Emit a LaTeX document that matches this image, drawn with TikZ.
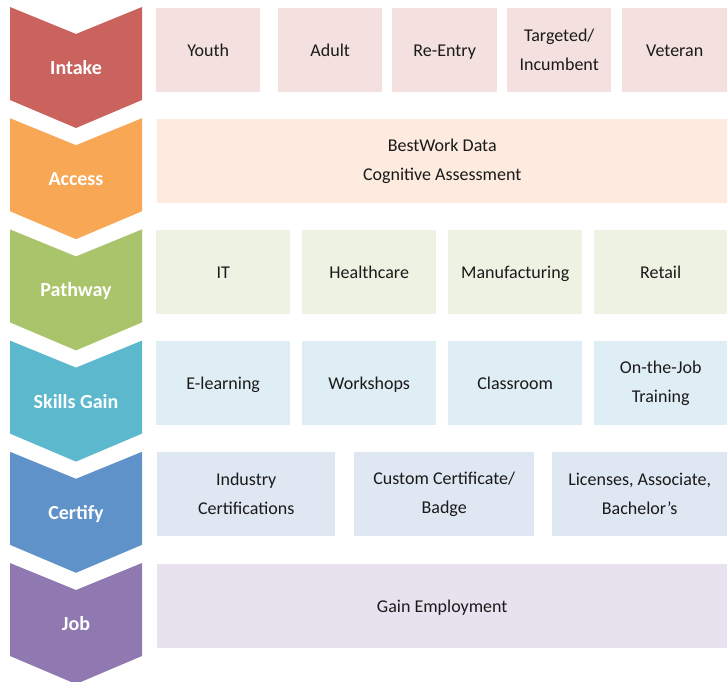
\documentclass[tikz,border=0pt]{standalone}
\usepackage{fontspec}
\setmainfont{Carlito}
\usetikzlibrary{positioning}
\usepackage{xcolor}

\definecolor{intakeC}{HTML}{CA625E}
\definecolor{accessC}{HTML}{F8A755}
\definecolor{pathwayC}{HTML}{AAC46B}
\definecolor{skillsC}{HTML}{5BB8CD}
\definecolor{certifyC}{HTML}{5E92C8}
\definecolor{jobC}{HTML}{9079B0}
\definecolor{intakeL}{HTML}{F4E0DF}
\definecolor{accessL}{HTML}{FDEBDF}
\definecolor{pathwayL}{HTML}{EEF2E2}
\definecolor{skillsL}{HTML}{DFEEF4}
\definecolor{certifyL}{HTML}{DFE7F2}
\definecolor{jobL}{HTML}{E8E2EF}
\definecolor{textC}{HTML}{1A1A1A}

\begin{document}
\begin{tikzpicture}[x=1bp, y=-1bp,
    every node/.style={
        rectangle,
        inner sep=0pt,
        align=center,
        text=textC,
        font=\fontsize{18bp}{29bp}\selectfont
    },
    item/.style={anchor=north west, minimum height=84bp},
    oneline/.style={text height=15bp, text depth=2bp}
]
    \useasboundingbox (0,0) rectangle (727,682);

    % chevrons down the left side
    \foreach \stage/\col [count=\i from 0] in {Intake/intakeC, Access/accessC,
        Pathway/pathwayC, Skills Gain/skillsC, Certify/certifyC, Job/jobC}
    {
        \pgfmathsetmacro{\top}{7+111.2*\i}
        \fill[\col] (10,\top) -- (76,\top+27) -- (142,\top) -- (142,\top+93)
            -- (76,\top+121) -- (10,\top+93) -- cycle;
        \node (stage\i) [text=white, oneline, font=\fontsize{20bp}{24bp}\selectfont\bfseries]
            at (76,\top+61) {\stage};
    }

    % Intake
    \node (youth) [item, oneline, fill=intakeL, minimum width=104bp] at (156,8) {Youth};
    \node (adult) [item, oneline, fill=intakeL, minimum width=104bp] at (278,8) {Adult};
    \node (re_entry) [item, oneline, fill=intakeL, minimum width=105bp] at (392,8) {Re-Entry};
    \node (targeted) [item, fill=intakeL, minimum width=104bp] at (507,8)
    {
        Targeted/\\Incumbent
    };
    \node (veteran) [item, oneline, fill=intakeL, minimum width=105bp] at (622,8) {Veteran};

    % Access
    \node (bestwork) [item, fill=accessL, minimum width=570bp] at (157,119)
    {
        BestWork Data\\Cognitive Assessment
    };

    % Pathway
    \node (it) [item, oneline, fill=pathwayL, minimum width=134bp] at (156,230) {IT};
    \node (healthcare) [item, oneline, fill=pathwayL, minimum width=134bp] at (302,230) {Healthcare};
    \node (manufacturing) [item, oneline, fill=pathwayL, minimum width=134bp] at (448,230) {Manufacturing};
    \node (retail) [item, oneline, fill=pathwayL, minimum width=133bp] at (594,230) {Retail};

    % Skills Gain
    \node (elearning) [item, oneline, fill=skillsL, minimum width=134bp] at (156,341) {E-learning};
    \node (workshops) [item, oneline, fill=skillsL, minimum width=134bp] at (302,341) {Workshops};
    \node (classroom) [item, oneline, fill=skillsL, minimum width=134bp] at (448,341) {Classroom};
    \node (on_the_job) [item, fill=skillsL, minimum width=133bp] at (594,341)
    {
        On-the-Job\\Training
    };

    % Certify
    \node (industry) [item, fill=certifyL, minimum width=178bp] at (157,452)
    {
        Industry\\Certifications
    };
    \node (custom) [item, fill=certifyL, minimum width=180bp] at (354,452)
    {
        Custom Certificate/\\Badge
    };
    \node (licenses) [item, fill=certifyL, minimum width=175bp] at (552,452)
    {
        Licenses, Associate,\\Bachelor’s
    };

    % Job
    \node (employment) [item, oneline, fill=jobL, minimum width=570bp] at (157,564) {Gain Employment};
\end{tikzpicture}
\end{document}
